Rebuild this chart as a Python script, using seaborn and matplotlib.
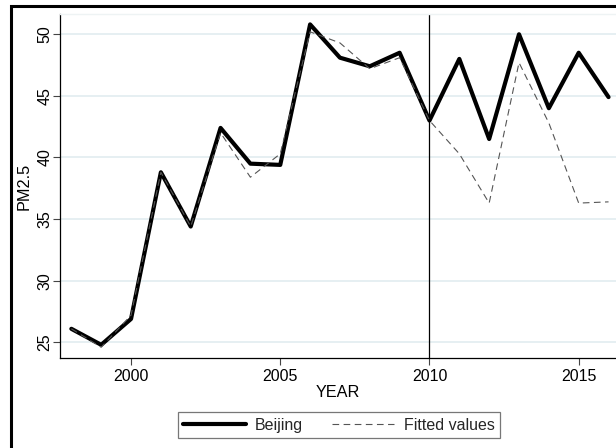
import matplotlib
matplotlib.use("Agg")
import matplotlib.pyplot as plt
import seaborn as sns
import pandas as pd
from matplotlib.patches import Rectangle

# PM2.5 series for Beijing and the fitted (synthetic control) values
years = [1998, 1999, 2000, 2001, 2002, 2003, 2004, 2005, 2006, 2007,
         2008, 2009, 2010, 2011, 2012, 2013, 2014, 2015, 2016]
beijing = [26.1, 24.8, 26.9, 38.8, 34.4, 42.4, 39.5, 39.4, 50.8, 48.1,
           47.4, 48.5, 43.0, 48.0, 41.5, 50.0, 44.0, 48.5, 44.9]
fitted = [26.1, 24.6, 27.2, 38.8, 34.4, 42.0, 38.4, 40.3, 50.2, 49.3,
          47.2, 48.1, 43.0, 40.3, 36.3, 47.7, 42.8, 36.3, 36.4]
yticks = [25, 30, 35, 40, 45, 50]
xticks = [2000, 2005, 2010, 2015]
event_year = 2010

df = pd.DataFrame({"YEAR": years, "Beijing": beijing, "Fitted values": fitted})

sns.set_theme(style="white")
plt.rcParams["font.family"] = ["Liberation Sans", "DejaVu Sans"]

W, H = 616, 448
fig = plt.figure(figsize=(W / 100, H / 100), dpi=100)
fig.patch.set_facecolor("white")

# outer graph-region frame
fig.patches.append(Rectangle((11 / W, -0.05), 1.2, 1 - 6 / H + 0.05,
                             transform=fig.transFigure, fill=False,
                             edgecolor="black", linewidth=2.2, zorder=0))

ax = fig.add_axes([60.3 / W, 1 - 358 / H, 1 - 60.3 / W, (358 - 14.3) / H])
ax.set_facecolor("white")

sns.lineplot(data=df, x="YEAR", y="Beijing", ax=ax, color="black",
             linewidth=3.0, label="Beijing", zorder=3)
sns.lineplot(data=df, x="YEAR", y="Fitted values", ax=ax, color="#555555",
             linewidth=0.8, linestyle=(0, (6, 4)), label="Fitted values",
             zorder=4)
ax.axvline(event_year, color="black", linewidth=0.9, zorder=2)

ax.set_xlim(1997.63, 2016.25)
ax.set_ylim(23.73, 51.62)
ax.set_xticks(xticks)
ax.set_yticks(yticks)
ax.grid(axis="y", color="#e4eef1", linewidth=1.3)
ax.grid(axis="x", visible=False)

ax.spines["right"].set_visible(False)
ax.spines["top"].set_color("#eef3f4")
ax.spines["top"].set_linewidth(1.0)
for side in ["left", "bottom"]:
    ax.spines[side].set_color("black")
    ax.spines[side].set_linewidth(0.9)

ax.tick_params(axis="both", direction="out", length=5, width=0.8,
               color="#444444", labelsize=11.5, labelcolor="black",
               left=True, bottom=True)
ax.tick_params(axis="x", pad=2.8)
ax.tick_params(axis="y", pad=0.6)
for lab in ax.get_yticklabels():
    lab.set_rotation(90)
    lab.set_va("center")

ax.set_xlabel("YEAR", fontsize=11.7, color="black")
ax.set_ylabel("PM2.5", fontsize=11.7, color="black")
ax.xaxis.set_label_coords(0.5, -0.078)
ax.yaxis.set_label_coords(-(60.3 - 32) / (W - 60.3), 0.5)

ax.get_legend().remove()
handles, labels = ax.get_legend_handles_labels()
leg = fig.legend(handles, labels, loc="center", ncol=2,
                 bbox_to_anchor=(339 / W, 1 - 425 / H),
                 frameon=True, fancybox=False, fontsize=11.5,
                 handlelength=3.9, handletextpad=0.6, columnspacing=1.8,
                 borderpad=0.35, borderaxespad=0)
leg.get_frame().set_edgecolor("#555555")
leg.get_frame().set_linewidth(0.9)

fig.savefig("out.png", dpi=100, facecolor="white")
